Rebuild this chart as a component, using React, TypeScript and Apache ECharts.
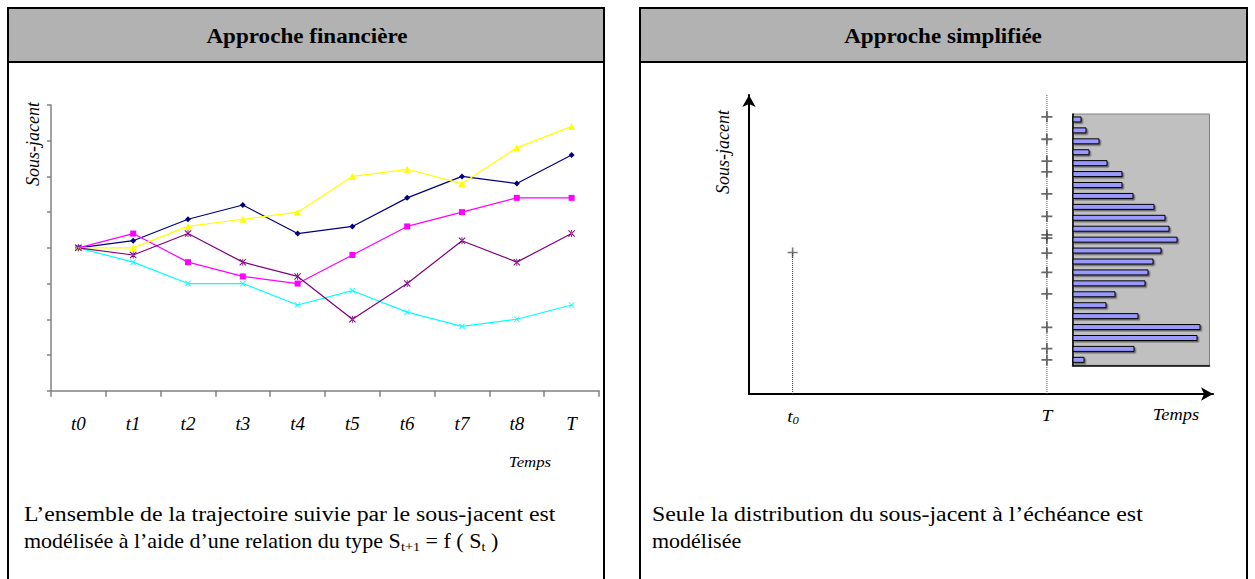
import React, { useEffect, useRef } from "react";
import * as echarts from "echarts";

// ---- Left chart: trajectories ----
const timeLabels = ["t0", "t1", "t2", "t3", "t4", "t5", "t6", "t7", "t8", "T"];
const pathNavy = [4, 4.2, 4.8, 5.2, 4.4, 4.6, 5.4, 6, 5.8, 6.6];
const pathMagenta = [4, 4.4, 3.6, 3.2, 3, 3.8, 4.6, 5, 5.4, 5.4];
const pathYellow = [4, 4, 4.6, 4.8, 5, 6, 6.2, 5.8, 6.8, 7.4];
const pathCyan = [4, 3.6, 3, 3, 2.4, 2.8, 2.2, 1.8, 2, 2.4];
const pathPurple = [4, 3.8, 4.4, 3.6, 3.2, 2, 3, 4.2, 3.6, 4.4];

// ---- Right chart: distribution at maturity ----
const timeT0 = 9.4;
const timeT = 64.2;
const startValue = 47.3;
const finalValues = [92.7, 85.2, 77.9, 74.3, 66.9, 59.4, 53.2, 52.1, 47.1, 40.7, 33.5, 22.3, 15.2, 11.4];
const binLabels = ["b1","b2","b3","b4","b5","b6","b7","b8","b9","b10","b11","b12","b13","b14","b15","b16","b17","b18","b19","b20","b21","b22","b23"];
const binCounts = [9, 14, 27, 17, 35, 50, 50, 61, 82, 93, 97, 105, 89, 81, 76, 73, 43, 34, 66, 128, 125, 62, 12];

const SERIF = "Liberation Serif";
const SX = 1.1;
const SX_JUSTIFIED = 1.19;
const X_SYMBOL = "path://M0,1 L1,0 L5,4 L9,0 L10,1 L6,5 L10,9 L9,10 L5,6 L1,10 L0,9 L4,5 Z";
const STAR_SYMBOL = "path://M0,1 L1,0 L5,4 L9,0 L10,1 L6,5 L10,9 L9,10 L5,6 L1,10 L0,9 L4,5 Z M4.4,0 L4.4,10 L5.6,10 L5.6,0 Z";
const PLUS_SYMBOL = "path://M4.2,0 L5.8,0 L5.8,4.2 L10,4.2 L10,5.8 L5.8,5.8 L5.8,10 L4.2,10 L4.2,5.8 L0,5.8 L0,4.2 L4.2,4.2 Z";

function lineSeries(name: string, data: number[], color: string, symbol: string, size: number) {
  return {
    name,
    type: "line",
    xAxisIndex: 0,
    yAxisIndex: 0,
    data,
    symbol,
    symbolSize: size,
    showSymbol: true,
    lineStyle: { color, width: 1.2 },
    itemStyle: { color },
  };
}

function txt(x: number, y: number, text: string, size: number, opts: any = {}) {
  const { align = "left", italic = false, bold = false, rotation = 0, scaleX = 1 } = opts;
  return {
    type: "text", x, y, rotation, scaleX,
    style: {
      text, fill: "#000", fontFamily: SERIF, fontSize: size,
      fontStyle: italic ? "italic" : "normal", fontWeight: bold ? "bold" : "normal",
      align, verticalAlign: "middle",
    },
  };
}

export default function App() {
  const ref = useRef<HTMLDivElement>(null);
  useEffect(() => {
    if (!ref.current) return;
    const chart = echarts.init(ref.current, undefined, { renderer: "svg" });
    const option: any = {
      animation: false,
      backgroundColor: "#fff",
      graphic: [
        // left panel
        { type: "rect", z: -10, shape: { x: 8, y: 8, width: 596, height: 600 }, style: { fill: "#fff", stroke: "#000", lineWidth: 2 } },
        { type: "rect", z: -9, shape: { x: 8, y: 8, width: 596, height: 54 }, style: { fill: "#b2b2b2", stroke: "#000", lineWidth: 2 } },
        txt(307, 36, "Approche financière", 21, { align: "center", bold: true, scaleX: SX }),
        // right panel
        { type: "rect", z: -10, shape: { x: 640, y: 8, width: 607, height: 600 }, style: { fill: "#fff", stroke: "#000", lineWidth: 2 } },
        { type: "rect", z: -9, shape: { x: 640, y: 8, width: 607, height: 54 }, style: { fill: "#b2b2b2", stroke: "#000", lineWidth: 2 } },
        txt(943, 36, "Approche simplifiée", 21, { align: "center", bold: true, scaleX: SX }),
        // left axis titles
        txt(33, 144, "Sous-jacent", 18, { align: "center", italic: true, rotation: Math.PI / 2 }),
        txt(530, 462, "Temps", 15, { align: "center", italic: true, scaleX: 1.12 }),
        // left caption
        txt(24, 514, "L’ensemble de la trajectoire suivie par le sous-jacent est", 20, { scaleX: SX_JUSTIFIED }),
        {
          type: "text", x: 24, y: 541, scaleX: SX,
          style: {
            text: "{n|modélisée à l’aide d’une relation du type S}{s|t+1}{n| = f ( S}{s|t}{n| )}",
            align: "left", verticalAlign: "middle",
            rich: {
              n: { fontFamily: SERIF, fontSize: 20, lineHeight: 24, fill: "#000", verticalAlign: "middle" },
              s: { fontFamily: SERIF, fontSize: 13, lineHeight: 13, fill: "#000", verticalAlign: "bottom" },
            },
          },
        },
        // right axis titles
        txt(723, 152, "Sous-jacent", 18, { align: "center", italic: true, rotation: Math.PI / 2 }),
        {
          type: "text", x: 793, y: 416, scaleX: 1.15,
          style: {
            text: "{n|t}{s|0}", align: "center", verticalAlign: "middle",
            rich: {
              n: { fontFamily: SERIF, fontStyle: "italic", fontSize: 17, lineHeight: 20, fill: "#000" },
              s: { fontFamily: SERIF, fontStyle: "italic", fontSize: 11, lineHeight: 11, fill: "#000", verticalAlign: "bottom" },
            },
          },
        },
        txt(1047, 415, "T", 17, { align: "center", italic: true, scaleX: 1.15 }),
        txt(1176, 415, "Temps", 16, { align: "center", italic: true, scaleX: 1.15 }),
        // right caption
        txt(652, 514, "Seule la distribution du sous-jacent à l’échéance est", 20, { scaleX: SX_JUSTIFIED }),
        txt(652, 541, "modélisée", 20, { scaleX: SX }),
      ],
      grid: [
        { left: 51, top: 105, width: 548, height: 285.7 },
        { left: 749, top: 95, width: 464, height: 299 },
        { left: 1072.5, top: 114, width: 137, height: 251.3, show: true, backgroundColor: "#c0c0c0", borderColor: "#808080", borderWidth: 1 },
      ],
      xAxis: [
        {
          gridIndex: 0, type: "category", data: timeLabels, boundaryGap: true,
          axisLine: { show: true, lineStyle: { color: "#808080", width: 1.5 } },
          axisTick: { show: true, length: 6, lineStyle: { color: "#808080", width: 1.5 } },
          axisLabel: { fontFamily: SERIF, fontStyle: "italic", fontSize: 19, color: "#000", margin: 23 },
          splitLine: { show: false },
        },
        {
          gridIndex: 1, type: "value", min: 0, max: 100,
          axisLine: { show: true, symbol: ["none", "arrow"], symbolSize: [10, 12], lineStyle: { color: "#000", width: 2 } },
          axisTick: { show: false }, axisLabel: { show: false }, splitLine: { show: false },
        },
        {
          gridIndex: 2, type: "value", min: 0, max: 137,
          axisLine: { show: true, onZero: false, lineStyle: { color: "#000", width: 1.5 } },
          axisTick: { show: false }, axisLabel: { show: false }, splitLine: { show: false },
        },
      ],
      yAxis: [
        {
          gridIndex: 0, type: "value", min: 0, max: 8, interval: 1,
          axisLine: { show: true, lineStyle: { color: "#808080", width: 1.5 } },
          axisTick: { show: true, length: 4, lineStyle: { color: "#808080", width: 1.5 } },
          axisLabel: { show: false }, splitLine: { show: false },
        },
        {
          gridIndex: 1, type: "value", min: 0, max: 100,
          axisLine: { show: true, symbol: ["none", "arrow"], symbolSize: [10, 12], lineStyle: { color: "#000", width: 2 } },
          axisTick: { show: false }, axisLabel: { show: false }, splitLine: { show: false },
        },
        {
          gridIndex: 2, type: "category", data: binLabels, inverse: true, boundaryGap: true,
          axisLine: { show: true, lineStyle: { color: "#000", width: 1.5 } },
          axisTick: { show: false }, axisLabel: { show: false }, splitLine: { show: false },
        },
      ],
      series: [
        lineSeries("s1", pathNavy, "#000080", "diamond", 6),
        lineSeries("s2", pathMagenta, "#ff00ff", "rect", 6),
        lineSeries("s3", pathYellow, "#ffff00", "triangle", 7),
        lineSeries("s4", pathCyan, "#00ffff", X_SYMBOL, 6),
        lineSeries("s5", pathPurple, "#800080", STAR_SYMBOL, 7),
        {
          type: "line", xAxisIndex: 1, yAxisIndex: 1, symbol: "none", silent: true,
          data: [[timeT, 0], [timeT, 100]],
          lineStyle: { color: "#555", width: 1, type: "dotted" },
        },
        {
          type: "line", xAxisIndex: 1, yAxisIndex: 1, symbol: "none", silent: true,
          data: [[timeT0, 0], [timeT0, startValue]],
          lineStyle: { color: "#333", width: 1, type: "dotted" },
        },
        {
          type: "scatter", xAxisIndex: 1, yAxisIndex: 1, symbol: PLUS_SYMBOL, symbolSize: 10,
          data: [[timeT0, startValue]], itemStyle: { color: "#555" },
        },
        {
          type: "scatter", xAxisIndex: 1, yAxisIndex: 1, symbol: PLUS_SYMBOL, symbolSize: 11,
          data: finalValues.map((v) => [timeT, v]), itemStyle: { color: "#444" },
        },
        {
          type: "bar", xAxisIndex: 2, yAxisIndex: 2, data: binCounts, barWidth: 6,
          itemStyle: { color: "#9999ff", borderColor: "#000", borderWidth: 1, shadowColor: "rgba(0,0,0,0.45)", shadowOffsetX: 1.5, shadowOffsetY: 1.5, shadowBlur: 0 },
        },
      ],
    };
    chart.setOption(option);
    return () => chart.dispose();
  }, []);
  return <div ref={ref} style={{ position: "fixed", left: 0, top: 0, width: 1255, height: 579 }} />;
}
